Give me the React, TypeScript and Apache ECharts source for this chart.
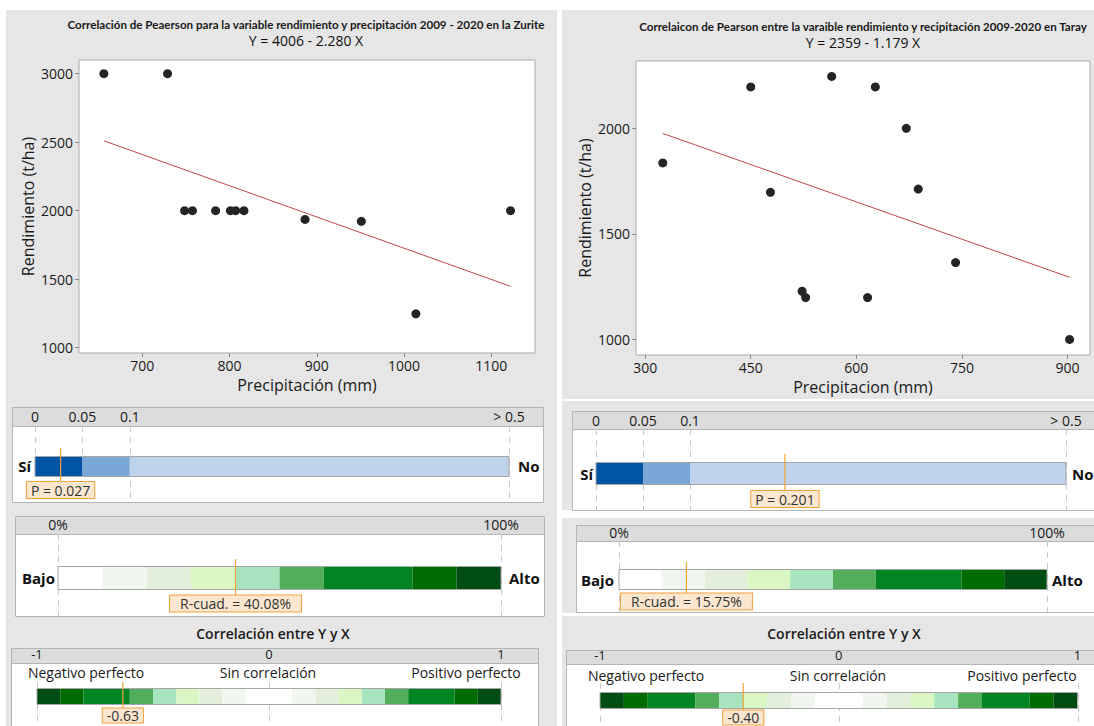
import React, { useEffect, useRef } from 'react';
import * as echarts from 'echarts';

// ---------- DATA ----------
const zuritePrecip = [656, 729, 748.5, 757.5, 784, 801, 807, 816.5, 886.5, 951, 1013.5, 1122];
const zuriteYield = [3000, 3000, 2000, 2000, 2000, 2000, 2000, 2000, 1936, 1922, 1247, 2000];
const zuriteFit = [4006, -2.28]; // intercept, slope
const zuriteXTicks = [700, 800, 900, 1000, 1100];
const zuriteYTicks = [1000, 1500, 2000, 2500, 3000];

const tarayPrecip = [325, 450, 478, 523, 528, 565, 616, 627, 671, 688, 741, 903];
const tarayYield = [1836, 2196, 1697, 1228, 1198, 2246, 1198, 2196, 2000, 1712, 1364, 1000];
const tarayFit = [2359, -1.179];
const tarayXTicks = [300, 450, 600, 750, 900];
const tarayYTicks = [1000, 1500, 2000];

const pBounds = [0, 0.05, 0.1, 0.5];
const pTicks = [0, 0.05, 0.1, 0.5];
const pTickLabels = ['0', '0.05', '0.1', '> 0.5'];
const pValues = [0.027, 0.201];

const r2Bounds = [0, 10, 20, 30, 40, 50, 60, 80, 90, 100];
const r2Ticks = [0, 100];
const r2TickLabels = ['0%', '100%'];
const r2Values = [40.08, 15.75];

const corrBounds = [-1, -0.9, -0.8, -0.6, -0.5, -0.4, -0.3, -0.2, -0.1, 0.1, 0.2, 0.3, 0.4, 0.5, 0.6, 0.8, 0.9, 1];
const corrTicks = [-1, 0, 1];
const corrTickLabels = ['-1', '0', '1'];
const corrValues = [-0.63, -0.4];

// ---------- STYLE ----------
const pColors = ['#0054a6', '#7ba7d7', '#bed3eb'];
const r2Colors = ['#ffffff', '#f0f7ee', '#e3efda', '#dbf6c5', '#a8e4bd', '#52ae5c', '#008522', '#006b00', '#004d14'];
const corrColors = ['#004d14', '#006b00', '#008522', '#52ae5c', '#a8e4bd', '#dbf6c5', '#e3efda', '#f0f7ee', '#ffffff',
  '#f0f7ee', '#e3efda', '#dbf6c5', '#a8e4bd', '#52ae5c', '#008522', '#006b00', '#004d14'];

const W = 1094, H = 726;
const SANS = "'Open Sans', 'Noto Sans', sans-serif";
const TITLE = "Lato, 'Noto Sans', sans-serif";
const PANEL = '#e6e6e6';
const TXT = '#1a1a1a';
const ORANGE = '#f2a23a';

function buildOption() {
  const grids: any[] = [];
  const xAxes: any[] = [];
  const yAxes: any[] = [];
  const series: any[] = [];
  const graphics: any[] = [];

  // background panels
  const panels = [
    [6, 10, 551, 716], [562, 10, 532, 389], [562, 401, 532, 109], [562, 518, 532, 95], [562, 616, 532, 110],
  ];
  panels.forEach(([x, y, w, h]) => graphics.push({ type: 'rect', z: -20, shape: { x, y, width: w, height: h }, style: { fill: PANEL } }));

  // scatter panels
  const scat = [
    { grid: { left: 79, top: 60, width: 456, height: 293 }, xMin: 627.5, xMax: 1150, yMin: 961, yMax: 3100,
      xs: zuritePrecip, ys: zuriteYield, fit: zuriteFit, xt: zuriteXTicks, yt: zuriteYTicks, xName: 'Precipitación (mm)' },
    { grid: { left: 636, top: 61, width: 454, height: 294 }, xMin: 287, xMax: 932, yMin: 926, yMax: 2319,
      xs: tarayPrecip, ys: tarayYield, fit: tarayFit, xt: tarayXTicks, yt: tarayYTicks, xName: 'Precipitacion (mm)' },
  ];
  scat.forEach((s, i) => {
    grids.push({ ...s.grid, show: true, backgroundColor: '#ffffff', borderColor: '#aaaaaa', borderWidth: 1, containLabel: false });
    xAxes.push({
      gridIndex: i, type: 'value', min: s.xMin, max: s.xMax, splitLine: { show: false }, axisLine: { show: false },
      axisTick: { show: true, customValues: s.xt, length: 4, lineStyle: { color: '#888' } },
      axisLabel: { customValues: s.xt, formatter: (v: number) => String(v), fontSize: 14, color: TXT, fontFamily: SANS, margin: 5 },
      name: s.xName, nameLocation: 'middle', nameGap: 24, nameTextStyle: { fontSize: 16, color: TXT, fontFamily: SANS },
    });
    yAxes.push({
      gridIndex: i, type: 'value', min: s.yMin, max: s.yMax, splitLine: { show: false }, axisLine: { show: false },
      axisTick: { show: true, customValues: s.yt, length: 4, lineStyle: { color: '#888' } },
      axisLabel: { customValues: s.yt, formatter: (v: number) => String(v), fontSize: 14, color: TXT, fontFamily: SANS, margin: 6 },
      name: 'Rendimiento (t/ha)', nameLocation: 'middle', nameGap: 43, nameTextStyle: { fontSize: 16, color: TXT, fontFamily: SANS },
    });
    series.push({
      type: 'scatter', xAxisIndex: i, yAxisIndex: i, data: s.xs.map((x, k) => [x, s.ys[k]]),
      symbolSize: 9, itemStyle: { color: '#242424', opacity: 1 }, z: 3,
    });
    const lo = Math.min(...s.xs), hi = Math.max(...s.xs);
    series.push({
      type: 'line', xAxisIndex: i, yAxisIndex: i, data: [[lo, s.fit[0] + s.fit[1] * lo], [hi, s.fit[0] + s.fit[1] * hi]],
      symbol: 'none', lineStyle: { color: '#c04848', width: 1 }, z: 2,
    });
  });

  // titles
  graphics.push({ type: 'text', x: 306, y: 24, style: { text: 'Correlación de Peaerson para la variable rendimiento y precipitación 2009 - 2020 en la Zurite', fontSize: 11.6, fontWeight: 'bold', fontFamily: TITLE, fill: '#1a1a1a', align: 'center', verticalAlign: 'middle' } });
  graphics.push({ type: 'text', x: 306, y: 40, style: { text: `Y = ${zuriteFit[0]} - ${Math.abs(zuriteFit[1]).toFixed(3)} X`, fontSize: 14, fontFamily: SANS, fill: '#111', align: 'center', verticalAlign: 'middle' } });
  graphics.push({ type: 'text', x: 863, y: 26, style: { text: 'Correlaicon de Pearson entre la varaible rendimiento y recipitación 2009-2020 en Taray', fontSize: 11.6, fontWeight: 'bold', fontFamily: TITLE, fill: '#1a1a1a', align: 'center', verticalAlign: 'middle' } });
  graphics.push({ type: 'text', x: 863, y: 42, style: { text: `Y = ${tarayFit[0]} - ${Math.abs(tarayFit[1]).toFixed(3)} X`, fontSize: 14, fontFamily: SANS, fill: '#111', align: 'center', verticalAlign: 'middle' } });

  // gauges
  type G = any;
  const gauges: G[] = [
    { box: [12, 407, 531, 95, 19], grid: { left: 35, top: 426, width: 474, height: 76 }, bounds: pBounds, colors: pColors, ticks: pTicks, tl: pTickLabels,
      guideTop: 0, barTop: 31, barH: 19, mTop: 22, mBot: 56, labelY: 64, value: pValues[0], label: `P = ${pValues[0].toFixed(3)}`, lpad: [1, 4], labMargin: 10, tfs: 14 },
    { box: [572, 411, 530, 99, 18], grid: { left: 596, top: 429, width: 470, height: 81 }, bounds: pBounds, colors: pColors, ticks: pTicks, tl: pTickLabels,
      guideTop: 0, barTop: 34, barH: 21, mTop: 25, mBot: 63, labelY: 70, value: pValues[1], label: `P = ${pValues[1].toFixed(3)}`, lpad: [1, 4], labMargin: 9, tfs: 14 },
    { box: [15, 516, 529, 100, 18], grid: { left: 58, top: 534, width: 443, height: 82 }, bounds: r2Bounds, colors: r2Colors, ticks: r2Ticks, tl: r2TickLabels,
      guideTop: 0, barTop: 33, barH: 22, mTop: 25, mBot: 63, labelY: 69.5, value: r2Values[0], label: `R-cuad. = ${r2Values[0].toFixed(2)}%`, lpad: [1, 10], labMargin: 10, tfs: 14 },
    { box: [576, 525, 525, 87, 16], grid: { left: 619, top: 541, width: 428, height: 71 }, bounds: r2Bounds, colors: r2Colors, ticks: r2Ticks, tl: r2TickLabels,
      guideTop: 0, barTop: 29, barH: 19, mTop: 21, mBot: 54, labelY: 60.5, value: r2Values[1], label: `R-cuad. = ${r2Values[1].toFixed(2)}%`, lpad: [1, 10], labMargin: 9, tfs: 14 },
    { box: [11, 648, 527, 85, 15], grid: { left: 37, top: 663, width: 464, height: 63 }, bounds: corrBounds, colors: corrColors, ticks: corrTicks, tl: corrTickLabels,
      guideTop: 19, barTop: 26, barH: 15, mTop: 19, mBot: 47, labelY: 52.5, value: corrValues[0], label: corrValues[0].toFixed(2), lpad: [0, 4], labMargin: 9, tfs: 13 },
    { box: [566, 650, 535, 85, 14], grid: { left: 600, top: 664, width: 477.5, height: 62 }, bounds: corrBounds, colors: corrColors, ticks: corrTicks, tl: corrTickLabels,
      guideTop: 19, barTop: 29, barH: 15, mTop: 19, mBot: 47, labelY: 53.5, value: corrValues[1], label: corrValues[1].toFixed(2), lpad: [0, 4], labMargin: 9, tfs: 13 },
  ];

  gauges.forEach((g) => {
    const gi = grids.length;
    const [bx, by, bw, bh, hh] = g.box;
    graphics.push({ type: 'rect', z: -10, shape: { x: bx + 0.5, y: by + 0.5, width: bw, height: bh }, style: { fill: '#ffffff', stroke: '#b5b5b5', lineWidth: 1 } });
    graphics.push({ type: 'rect', z: -9, shape: { x: bx + 0.5, y: by + 0.5, width: bw, height: hh }, style: { fill: '#dcdcdc', stroke: '#b5b5b5', lineWidth: 1 } });
    grids.push({ ...g.grid, show: false, containLabel: false });
    const tickLabelMap: Record<string, string> = {};
    g.ticks.forEach((t: number, k: number) => { tickLabelMap[String(t)] = g.tl[k]; });
    xAxes.push({
      gridIndex: gi, type: 'value', position: 'top', min: g.bounds[0], max: g.bounds[g.bounds.length - 1],
      axisLine: { show: false }, axisTick: { show: false }, splitLine: { show: false },
      axisLabel: { customValues: g.ticks, formatter: (v: number) => tickLabelMap[String(v)] ?? String(v), fontSize: g.tfs, color: TXT, fontFamily: SANS,
        margin: g.labMargin, verticalAlign: 'middle', lineHeight: g.tfs, showMinLabel: true, showMaxLabel: true, hideOverlap: false },
    });
    yAxes.push({ gridIndex: gi, type: 'value', min: 0, max: 1, show: false });

    // dashed guides
    series.push({
      type: 'custom', xAxisIndex: gi, yAxisIndex: gi, z: 1, silent: true,
      data: g.ticks.map((t: number) => [t]),
      encode: { x: 0 },
      renderItem: (params: any, api: any) => {
        const cs = params.coordSys;
        const px = Math.round(api.coord([api.value(0), 0])[0]) + 0.5;
        return { type: 'line', shape: { x1: px, y1: cs.y + g.guideTop, x2: px, y2: cs.y + cs.height }, style: { stroke: '#c8c8c8', lineWidth: 1, lineDash: [6, 5] } };
      },
    });
    // coloured segments
    series.push({
      type: 'custom', xAxisIndex: gi, yAxisIndex: gi, z: 2, silent: true,
      data: g.bounds.slice(0, -1).map((b: number, k: number) => [b, g.bounds[k + 1]]),
      encode: { x: [0, 1] },
      renderItem: (params: any, api: any) => {
        const cs = params.coordSys;
        const a = api.coord([api.value(0), 0])[0];
        const b = api.coord([api.value(1), 0])[0];
        return { type: 'rect', shape: { x: a, y: cs.y + g.barTop, width: b - a, height: g.barH }, style: { fill: g.colors[params.dataIndex] } };
      },
    });
    // bar outline
    series.push({
      type: 'custom', xAxisIndex: gi, yAxisIndex: gi, z: 3, silent: true,
      data: [[g.bounds[0], g.bounds[g.bounds.length - 1]]],
      encode: { x: [0, 1] },
      renderItem: (params: any, api: any) => {
        const cs = params.coordSys;
        const a = api.coord([api.value(0), 0])[0];
        const b = api.coord([api.value(1), 0])[0];
        return { type: 'rect', shape: { x: a, y: cs.y + g.barTop - 0.5, width: b - a, height: g.barH + 1 }, style: { fill: 'none', stroke: '#a6a6a6', lineWidth: 1 } };
      },
    });
    // marker
    series.push({
      type: 'custom', xAxisIndex: gi, yAxisIndex: gi, z: 4, silent: true,
      data: [[g.value]],
      encode: { x: 0 },
      renderItem: (params: any, api: any) => {
        const cs = params.coordSys;
        const px = api.coord([api.value(0), 0])[0];
        return {
          type: 'group', children: [
            { type: 'line', shape: { x1: px, y1: cs.y + g.mTop, x2: px, y2: cs.y + g.mBot }, style: { stroke: ORANGE, lineWidth: 1.2 } },
            { type: 'text', x: px, y: cs.y + g.labelY, style: { text: g.label, fontSize: 14, fontFamily: SANS, fill: '#333', align: 'center', verticalAlign: 'middle',
              backgroundColor: '#fbe6cf', borderColor: ORANGE, borderWidth: 1, padding: g.lpad } },
          ],
        };
      },
    });
  });

  // gauge side labels
  const bold = (x: number, y: number, text: string, align: string) => ({ type: 'text', x, y, style: { text, fontSize: 15, fontWeight: 'bold', fontFamily: SANS, fill: '#111', align, verticalAlign: 'middle' } });
  graphics.push(bold(31, 466, 'Sí', 'right'), bold(518, 466, 'No', 'left'));
  graphics.push(bold(593, 474, 'Sí', 'right'), bold(1072, 474, 'No', 'left'));
  graphics.push(bold(55, 578, 'Bajo', 'right'), bold(509, 578, 'Alto', 'left'));
  graphics.push(bold(614, 580, 'Bajo', 'right'), bold(1052, 580, 'Alto', 'left'));

  // correlation titles and labels
  const plain = (x: number, y: number, text: string, extra: any = {}) => ({ type: 'text', x, y, style: { text, fontSize: 14, fontFamily: SANS, fill: TXT, align: 'center', verticalAlign: 'middle', ...extra } });
  graphics.push(plain(273, 633, 'Correlación entre Y y X', { fontWeight: 600 }));
  graphics.push(plain(844, 633, 'Correlación entre Y y X', { fontWeight: 600 }));
  graphics.push(plain(86, 672, 'Negativo perfecto'), plain(268, 672, 'Sin correlación'), plain(466, 672, 'Positivo perfecto'));
  graphics.push(plain(646, 675, 'Negativo perfecto'), plain(838, 675, 'Sin correlación'), plain(1022, 675, 'Positivo perfecto'));

  return {
    animation: false,
    backgroundColor: '#ffffff',
    grid: grids,
    xAxis: xAxes,
    yAxis: yAxes,
    series,
    graphic: { elements: graphics },
  };
}

export default function App() {
  const ref = useRef<HTMLDivElement>(null);
  useEffect(() => {
    if (!ref.current) return;
    const chart = echarts.init(ref.current, null, { renderer: 'svg', width: W, height: H });
    chart.setOption(buildOption() as any);
    return () => chart.dispose();
  }, []);
  return <div ref={ref} style={{ position: 'absolute', left: 0, top: 0, width: W, height: H }} />;
}
